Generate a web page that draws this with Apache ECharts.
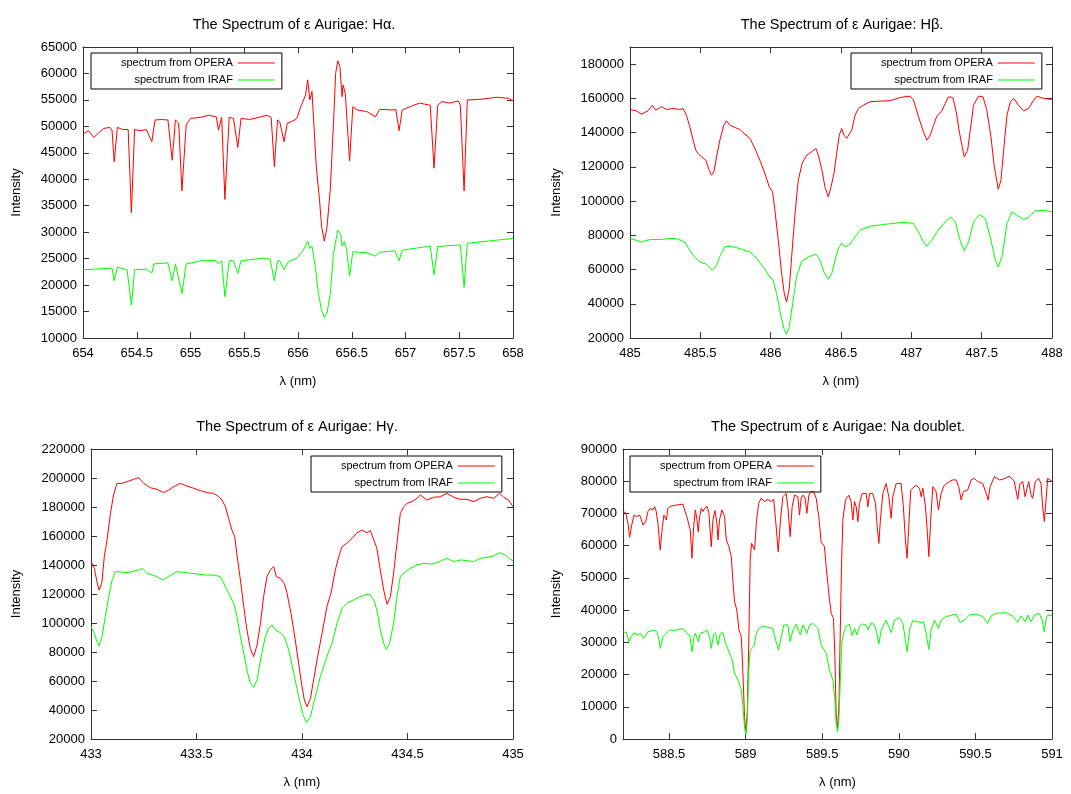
<!DOCTYPE html>
<html>
<head>
<meta charset="utf-8">
<title>The Spectrum of ε Aurigae</title>
<script src="https://cdn.jsdelivr.net/npm/echarts@6/dist/echarts.min.js"></script>
<style>
    html, body { margin: 0; padding: 0; background: #fff; }
    #main { width: 1071px; height: 794px; }
</style>
</head>
<body>
<div id="main"></div>
<script>
// series names
var seriesNames = ['spectrum from OPERA', 'spectrum from IRAF'];

// H-alpha  [wavelength nm, intensity]
var haOpera = [
    [654.00,48500],[654.05,49200],[654.10,47900],[654.19,49600],[654.25,49800],[654.27,49300],[654.29,43300],
    [654.32,49800],[654.37,49400],[654.42,49400],[654.45,33700],[654.48,49400],[654.53,49200],[654.59,49400],
    [654.64,47100],[654.67,51200],[654.73,51300],[654.79,51200],[654.83,43600],[654.86,51200],[654.89,50600],
    [654.92,37800],[654.96,50300],[655.00,51500],[655.09,51700],[655.17,52100],[655.24,51800],[655.26,49300],
    [655.29,51700],[655.32,36200],[655.36,51700],[655.40,51500],[655.44,46000],[655.47,51500],[655.55,51300],
    [655.65,51800],[655.71,52100],[655.75,51700],[655.78,42400],[655.81,51200],[655.83,50900],[655.87,47100],
    [655.90,50600],[655.94,50900],[655.99,51500],[656.02,53400],[656.07,55900],[656.09,58800],[656.11,55000],
    [656.13,56600],[656.14,53100],[656.17,42400],[656.20,36100],[656.22,31000],[656.245,28300],[656.27,31000],
    [656.30,38000],[656.33,50600],[656.35,60000],[656.37,62400],[656.39,61300],[656.41,55600],[656.42,57800],
    [656.44,56200],[656.48,43500],[656.51,53700],[656.55,53100],[656.64,52800],[656.72,51800],[656.76,53200],
    [656.89,53100],[656.91,53200],[656.94,49200],[656.97,53100],[657.04,53700],[657.13,54400],[657.23,54000],
    [657.265,42100],[657.30,54000],[657.34,54700],[657.41,54400],[657.49,54800],[657.51,54000],[657.545,37800],
    [657.575,55000],[657.69,55100],[657.85,55500],[657.96,55300],[658.00,54800]
];
var haIraf = [
    [654.00,22900],[654.10,23000],[654.27,23200],[654.29,20800],[654.32,23400],[654.41,22900],[654.45,16200],
    [654.48,22900],[654.59,23000],[654.64,22300],[654.66,24000],[654.79,24200],[654.83,20800],[654.86,24000],
    [654.92,18400],[654.96,24000],[655.12,24700],[655.24,24600],[655.26,24000],[655.29,24600],[655.32,17800],
    [655.36,24600],[655.40,24600],[655.44,22200],[655.47,24600],[655.68,25100],[655.74,24900],[655.78,20800],
    [655.81,24600],[655.83,24600],[655.87,22900],[655.91,24400],[655.99,25100],[656.05,26600],[656.09,28300],
    [656.11,26900],[656.13,27400],[656.16,23500],[656.19,18400],[656.22,15200],[656.245,13900],[656.27,14700],
    [656.30,18400],[656.33,26000],[656.37,30400],[656.40,29500],[656.41,27400],[656.43,28200],[656.45,26900],
    [656.48,21700],[656.51,26300],[656.64,26100],[656.72,25500],[656.76,26200],[656.90,26500],[656.94,24600],
    [656.97,26600],[657.07,26900],[657.23,27400],[657.265,21900],[657.30,27300],[657.51,27600],[657.545,19600],
    [657.575,27900],[657.85,28500],[658.00,28800]
];

// H-beta
var hbOpera = [
    [485.00,153500],[485.045,152700],[485.081,150800],[485.128,152700],[485.159,156000],[485.183,153100],
    [485.223,155100],[485.259,153500],[485.306,154100],[485.354,153500],[485.377,154100],[485.401,150200],
    [485.425,143400],[485.449,135600],[485.468,129700],[485.484,127800],[485.508,125800],[485.539,123900],
    [485.563,118000],[485.579,115100],[485.596,117100],[485.615,125800],[485.639,135600],[485.667,144300],
    [485.686,146900],[485.710,144300],[485.745,143000],[485.781,141800],[485.817,139100],[485.852,136600],
    [485.888,130700],[485.923,123900],[485.959,116100],[485.990,108300],[486.014,105400],[486.030,94600],
    [486.054,77100],[486.078,57600],[486.097,45900],[486.113,41000],[486.132,48800],[486.149,67400],
    [486.173,92700],[486.196,112200],[486.225,122300],[486.256,126800],[486.291,128800],[486.322,130700],
    [486.339,126800],[486.362,119000],[486.386,108300],[486.410,102400],[486.429,108300],[486.450,116100],
    [486.469,127800],[486.488,138500],[486.505,142400],[486.521,138500],[486.540,136600],[486.576,141400],
    [486.600,150200],[486.624,154100],[486.659,156000],[486.707,158000],[486.778,158400],[486.849,158600],
    [486.920,160500],[486.991,161300],[487.015,159000],[487.051,149200],[487.086,140400],[487.110,135600],
    [487.134,138500],[487.158,144300],[487.181,149600],[487.217,152700],[487.241,157000],[487.264,160900],
    [487.295,160500],[487.319,152100],[487.343,139500],[487.376,125800],[487.400,129700],[487.419,141400],
    [487.442,156000],[487.478,161300],[487.509,160900],[487.537,153100],[487.566,137500],[487.590,120000],
    [487.618,106900],[487.637,112200],[487.656,129700],[487.680,150200],[487.704,158000],[487.727,159900],
    [487.763,156000],[487.798,152700],[487.834,154100],[487.870,159000],[487.893,161300],[487.941,159900],
    [488.00,159400]
];
var hbIraf = [
    [485.00,78100],[485.045,77100],[485.081,76100],[485.140,77500],[485.211,77500],[485.282,78100],
    [485.330,78100],[485.389,76100],[485.425,71300],[485.460,67400],[485.496,64400],[485.544,63100],
    [485.586,59600],[485.615,62500],[485.643,68300],[485.674,73200],[485.705,73800],[485.757,72800],
    [485.805,71600],[485.852,70300],[485.900,66400],[485.947,61500],[485.990,56100],[486.018,53700],
    [486.042,45900],[486.070,34200],[486.094,25500],[486.113,22100],[486.132,26400],[486.156,40100],
    [486.184,55700],[486.220,64800],[486.268,67400],[486.322,68900],[486.351,65400],[486.379,58600],
    [486.410,54300],[486.434,57600],[486.457,65400],[486.481,72200],[486.505,75500],[486.529,73200],
    [486.564,74800],[486.600,79100],[486.635,83000],[486.707,85300],[486.802,86300],[486.897,87200],
    [486.944,87600],[487.015,86900],[487.051,82000],[487.086,76100],[487.110,73600],[487.146,77100],
    [487.181,82000],[487.241,87800],[487.281,90700],[487.312,87800],[487.347,77100],[487.376,70900],
    [487.407,76100],[487.442,87800],[487.485,92100],[487.526,89800],[487.566,77100],[487.597,65400],
    [487.618,61500],[487.644,67400],[487.680,86900],[487.715,93700],[487.751,91700],[487.798,89200],
    [487.834,90700],[487.882,94300],[487.941,94600],[488.00,93700]
];

// H-gamma
var hgOpera = [
    [433.00,142300],[433.016,137700],[433.028,128500],[433.038,122800],[433.051,127400],[433.063,145800],
    [433.076,157300],[433.092,175600],[433.107,188300],[433.123,196300],[433.147,196300],[433.171,197500],
    [433.202,199100],[433.226,200200],[433.250,196300],[433.281,193300],[433.313,192200],[433.344,189900],
    [433.368,191700],[433.392,194000],[433.423,196300],[433.455,194500],[433.487,192900],[433.518,191300],
    [433.550,189900],[433.581,189400],[433.605,187100],[433.621,184800],[433.637,180200],[433.652,172200],
    [433.668,164100],[433.681,159500],[433.692,146900],[433.708,129700],[433.724,111300],[433.739,95200],
    [433.755,82500],[433.771,76800],[433.787,84800],[433.803,99800],[433.818,118200],[433.834,132000],
    [433.850,136600],[433.866,138900],[433.878,132000],[433.897,130800],[433.916,127400],[433.929,120500],
    [433.948,106700],[433.968,88300],[433.984,72200],[434.000,56100],[434.011,46900],[434.024,42300],
    [434.040,48000],[434.055,60700],[434.074,76800],[434.095,92900],[434.118,111300],[434.137,120500],
    [434.158,136600],[434.174,145800],[434.190,152700],[434.213,155000],[434.237,158400],[434.261,162300],
    [434.284,164100],[434.308,162300],[434.324,163700],[434.340,157300],[434.355,151500],[434.371,136600],
    [434.387,122800],[434.403,112900],[434.419,118200],[434.434,134300],[434.450,155000],[434.466,175600],
    [434.482,180200],[434.498,182500],[434.521,183700],[434.545,186000],[434.561,188300],[434.592,184800],
    [434.624,186700],[434.656,187100],[434.687,189400],[434.719,186700],[434.750,185300],[434.782,185300],
    [434.814,183700],[434.845,186000],[434.877,187100],[434.908,186000],[434.937,189400],[434.956,186700],
    [434.979,184800],[435.00,180200]
];
var hgIraf = [
    [433.00,97500],[433.016,92900],[433.028,87100],[433.038,84100],[433.052,90600],[433.068,104400],
    [433.084,118200],[433.100,129700],[433.115,135400],[433.131,135400],[433.163,134700],[433.194,135400],
    [433.226,136600],[433.242,137700],[433.265,134300],[433.305,132400],[433.341,129700],[433.368,132000],
    [433.408,135400],[433.455,134700],[433.502,133800],[433.542,133100],[433.581,133100],[433.613,132000],
    [433.629,127400],[433.652,120500],[433.676,113600],[433.692,104400],[433.708,90600],[433.724,79100],
    [433.739,67600],[433.755,58400],[433.771,55600],[433.787,60700],[433.803,74500],[433.826,90600],
    [433.842,96300],[433.858,98600],[433.874,95200],[433.897,93300],[433.916,90600],[433.937,81400],
    [433.961,65300],[433.984,49200],[434.005,36600],[434.021,31300],[434.040,35400],[434.063,49200],
    [434.087,63000],[434.118,76800],[434.142,86000],[434.166,99800],[434.190,110100],[434.213,113600],
    [434.245,115900],[434.276,118200],[434.308,119800],[434.324,119300],[434.340,115900],[434.355,109000],
    [434.371,95200],[434.387,86000],[434.400,81800],[434.415,86000],[434.434,99800],[434.450,118200],
    [434.466,132000],[434.490,135400],[434.513,137700],[434.545,140000],[434.577,141200],[434.608,140700],
    [434.640,141600],[434.687,144600],[434.719,142300],[434.750,143500],[434.782,143000],[434.814,142300],
    [434.845,144600],[434.877,145300],[434.908,146200],[434.937,148500],[434.964,146900],[434.987,143900],
    [435.00,143000]
];

// Na doublet
var naOpera = [
    [588.200,70600],[588.217,70200],[588.233,66900],[588.243,62600],[588.257,66400],[588.272,69500],
    [588.287,69000],[588.298,68500],[588.309,69500],[588.320,68000],[588.330,66400],[588.348,67400],
    [588.363,70600],[588.378,71600],[588.396,71100],[588.407,72100],[588.417,70600],[588.428,66900],
    [588.443,58700],[588.457,65900],[588.467,69500],[588.483,68000],[588.493,71600],[588.515,72300],
    [588.548,72600],[588.591,72900],[588.602,71100],[588.617,69000],[588.630,69500],[588.639,64900],
    [588.650,56100],[588.661,65900],[588.672,71100],[588.683,68000],[588.691,64300],[588.700,69000],
    [588.711,71600],[588.722,70600],[588.733,71600],[588.748,72300],[588.761,70000],[588.776,59700],
    [588.787,68000],[588.800,70900],[588.813,66900],[588.820,61800],[588.830,68000],[588.846,71100],
    [588.863,69000],[588.874,61800],[588.891,59700],[588.907,56600],[588.917,49300],[588.928,42600],
    [588.943,40000],[588.957,33800],[588.972,31800],[588.983,20400],[588.993,6900],[589.002,2300],
    [589.011,8000],[589.022,32800],[589.030,55600],[589.039,60700],[589.048,60200],[589.059,58700],
    [589.070,66900],[589.085,73100],[589.102,74700],[589.124,73700],[589.146,74400],[589.167,73700],
    [589.183,74400],[589.196,68000],[589.213,58100],[589.228,68000],[589.243,75200],[589.265,76200],
    [589.276,72100],[589.291,62800],[589.304,72100],[589.320,75700],[589.341,75200],[589.352,69500],
    [589.363,74700],[589.374,75700],[589.389,74700],[589.400,70000],[589.413,75700],[589.428,76800],
    [589.443,76800],[589.461,74700],[589.478,69000],[589.493,61200],[589.515,59700],[589.526,53500],
    [589.537,48300],[589.548,43100],[589.559,39000],[589.574,37400],[589.583,25600],[589.591,8000],
    [589.600,3300],[589.609,10000],[589.617,30700],[589.626,53500],[589.635,68000],[589.652,74200],
    [589.674,75700],[589.689,73700],[589.700,68000],[589.711,73700],[589.722,72100],[589.733,67500],
    [589.743,73100],[589.761,76200],[589.787,76200],[589.798,72100],[589.809,76200],[589.830,76200],
    [589.848,73100],[589.859,65900],[589.870,60700],[589.880,68000],[589.896,76200],[589.917,79300],
    [589.935,75200],[589.950,68500],[589.961,75200],[589.983,79300],[590.015,79300],[590.030,72100],
    [590.043,61800],[590.054,56100],[590.065,65900],[590.078,77300],[590.091,77800],[590.113,78800],
    [590.135,77800],[590.146,75200],[590.157,77800],[590.174,72100],[590.187,63800],[590.196,56600],
    [590.207,66900],[590.222,78300],[590.243,76800],[590.259,71100],[590.276,76200],[590.298,78800],
    [590.330,79900],[590.352,80400],[590.374,80400],[590.391,78300],[590.407,74200],[590.422,76800],
    [590.450,77300],[590.472,80400],[590.493,80900],[590.515,79900],[590.548,79300],[590.570,76200],
    [590.583,74200],[590.596,78300],[590.624,81400],[590.657,80400],[590.678,80600],[590.722,81600],
    [590.754,79900],[590.776,74400],[590.791,79300],[590.809,79900],[590.824,75200],[590.835,75200],
    [590.848,79900],[590.863,75700],[590.874,74700],[590.891,79900],[590.913,80900],[590.928,79300],
    [590.939,72100],[590.950,67500],[590.961,74200],[590.972,80900],[591.000,79900]
];
var naIraf = [
    [588.200,33300],[588.222,33000],[588.239,30200],[588.254,31800],[588.272,33000],[588.298,32300],
    [588.315,32800],[588.335,31200],[588.363,33300],[588.407,33800],[588.422,33300],[588.435,30700],
    [588.443,28100],[588.461,31800],[588.483,32800],[588.504,33800],[588.548,33800],[588.591,34300],
    [588.617,32800],[588.635,32300],[588.650,27100],[588.663,31800],[588.672,32800],[588.691,30200],
    [588.704,32800],[588.733,33300],[588.748,33800],[588.765,31800],[588.776,28100],[588.791,32300],
    [588.804,33000],[588.820,29200],[588.835,32800],[588.852,33000],[588.870,29700],[588.891,27100],
    [588.913,24500],[588.928,20400],[588.950,18300],[588.972,15200],[588.983,10000],[588.993,3800],
    [589.002,1400],[589.011,5900],[589.020,20400],[589.030,27600],[589.043,27800],[589.054,28700],
    [589.070,32800],[589.087,34300],[589.113,35100],[589.146,34700],[589.178,34300],[589.196,30700],
    [589.215,27600],[589.233,31800],[589.250,35400],[589.276,35400],[589.291,30200],[589.309,33800],
    [589.330,35600],[589.357,32300],[589.374,35400],[589.400,32800],[589.417,35400],[589.439,35900],
    [589.472,34300],[589.493,29200],[589.526,26600],[589.548,21400],[589.570,18300],[589.583,12100],
    [589.591,4900],[589.600,2300],[589.609,5900],[589.620,20400],[589.630,30700],[589.652,34900],
    [589.678,35600],[589.696,32000],[589.711,34300],[589.726,32300],[589.743,34900],[589.765,35700],
    [589.787,35400],[589.800,33800],[589.820,36100],[589.841,35400],[589.857,32800],[589.870,29500],
    [589.885,33800],[589.917,36900],[589.950,33000],[589.972,36900],[590.004,37700],[590.026,36100],
    [590.043,30700],[590.054,27100],[590.070,33800],[590.091,36700],[590.124,36400],[590.146,36100],
    [590.161,36400],[590.178,32800],[590.196,27800],[590.211,33800],[590.233,36900],[590.259,34300],
    [590.276,36900],[590.309,38000],[590.374,38800],[590.400,36100],[590.428,36900],[590.461,38500],
    [590.504,38800],[590.548,38000],[590.580,35900],[590.602,38200],[590.635,39000],[590.700,39200],
    [590.743,38200],[590.776,36200],[590.798,38200],[590.826,36400],[590.841,38500],[590.863,36400],
    [590.885,38500],[590.917,39000],[590.935,36900],[590.950,33300],[590.965,38200],[591.000,38500]
];

// tick values for the Na panel (axis starts at 588.2)
var naTicks = [588.5, 589, 589.5, 590, 590.5, 591];

(function(){

    var FONT = '"Liberation Sans", Arial, Helvetica, sans-serif';
    var AXIS_COLOR = '#333';

    var panels = [
        {
            title: 'The Spectrum of ε Aurigae: Hα.', titleX: 289, titleY: 12,
            grid: {left: 83, top: 47, width: 430, height: 291},
            x: {min: 654, max: 658, interval: 0.5},
            y: {min: 10000, max: 65000, interval: 5000},
            opera: haOpera, iraf: haIraf,
            legend: {left: 91, top: 53},
            yNameGap: 60
        },
        {
            title: 'The Spectrum of ε Aurigae: Hβ.', titleX: 837, titleY: 12,
            grid: {left: 630, top: 47, width: 422, height: 291},
            x: {min: 485, max: 488, interval: 0.5},
            y: {min: 20000, max: 190000, interval: 20000},
            opera: hbOpera, iraf: hbIraf,
            legend: {left: 851, top: 53},
            yNameGap: 67
        },
        {
            title: 'The Spectrum of ε Aurigae: Hγ.', titleX: 292, titleY: 414,
            grid: {left: 91, top: 449, width: 422, height: 290},
            x: {min: 433, max: 435, interval: 0.5},
            y: {min: 20000, max: 220000, interval: 20000},
            opera: hgOpera, iraf: hgIraf,
            legend: {left: 311, top: 456},
            yNameGap: 68
        },
        {
            title: 'The Spectrum of ε Aurigae: Na doublet.', titleX: 833, titleY: 414,
            grid: {left: 623, top: 449, width: 429, height: 290},
            x: {min: 588.2, max: 591, ticks: naTicks},
            y: {min: 0, max: 90000, interval: 10000},
            opera: naOpera, iraf: naIraf,
            legend: {left: 630, top: 456},
            yNameGap: 60
        }
    ];

    var option = {
        animation: false,
        backgroundColor: '#fff',
        textStyle: {fontFamily: FONT},
        title: [], grid: [], xAxis: [], yAxis: [], legend: [], series: []
    };

    // 生成坐标轴 (mirror = gnuplot 风格的上/右边框)
    function makeAxis(gridIndex, cfg, position, mirror){
        var axis = {
            type: 'value',
            gridIndex: gridIndex,
            position: position,
            min: cfg.min,
            max: cfg.max,
            splitLine: {show: false},
            axisLine: {show: true, onZero: false, lineStyle: {color: AXIS_COLOR, width: 1}},
            axisTick: {show: true, inside: true, length: 6, lineStyle: {color: AXIS_COLOR}},
            axisLabel: {
                show: !mirror,
                color: '#000',
                fontSize: 13,
                fontFamily: FONT,
                margin: (position === 'bottom') ? 9 : 6,
                showMaxLabel: !cfg.interval || cfg.max % cfg.interval === 0,
                // 不要千位分隔符
                formatter: function(v){
                    return String(+v.toFixed(3));
                }
            }
        };
        if(cfg.ticks){
            axis.axisTick.customValues = cfg.ticks;
            axis.axisLabel.customValues = cfg.ticks;
        }else{
            axis.interval = cfg.interval;
        }
        return axis;
    }

    panels.forEach(function(p, i){
        option.title.push({
            text: p.title,
            left: p.titleX,
            top: p.titleY,
            textAlign: 'center',
            textStyle: {fontSize: 14.5, fontWeight: 'normal', color: '#000', fontFamily: FONT}
        });
        option.grid.push(p.grid);

        var xi = option.xAxis.length;
        var xBottom = makeAxis(i, p.x, 'bottom', false);
        xBottom.name = 'λ (nm)';
        xBottom.nameLocation = 'middle';
        xBottom.nameGap = 37;
        xBottom.nameTextStyle = {fontSize: 13, color: '#000', fontFamily: FONT};
        option.xAxis.push(xBottom, makeAxis(i, p.x, 'top', true));

        var yi = option.yAxis.length;
        var yLeft = makeAxis(i, p.y, 'left', false);
        yLeft.name = 'Intensity';
        yLeft.nameLocation = 'middle';
        yLeft.nameRotate = 90;
        yLeft.nameGap = p.yNameGap;
        yLeft.nameTextStyle = {fontSize: 13, color: '#000', fontFamily: FONT};
        option.yAxis.push(yLeft, makeAxis(i, p.y, 'right', true));

        option.legend.push({
            data: seriesNames,
            orient: 'vertical',
            align: 'right',
            left: p.legend.left,
            top: p.legend.top,
            padding: [3, 7, 2, 30],
            itemGap: 3,
            itemWidth: 37,
            itemHeight: 1,
            icon: 'rect',
            borderColor: '#000',
            borderWidth: 1,
            borderRadius: 0,
            selectedMode: false,
            textStyle: {fontSize: 11, lineHeight: 14, color: '#000', fontFamily: FONT}
        });

        [[seriesNames[0], p.opera, '#ff0000'], [seriesNames[1], p.iraf, '#00ff00']].forEach(function(s){
            option.series.push({
                name: s[0],
                type: 'line',
                xAxisIndex: xi,
                yAxisIndex: yi,
                data: s[1],
                symbol: 'none',
                showSymbol: false,
                clip: true,
                lineStyle: {color: s[2], width: 1},
                itemStyle: {color: s[2]}
            });
        });
    });

    var chart = echarts.init(document.getElementById('main'), null, {renderer: 'canvas'});
    chart.setOption(option);
})();
</script>
</body>
</html>
